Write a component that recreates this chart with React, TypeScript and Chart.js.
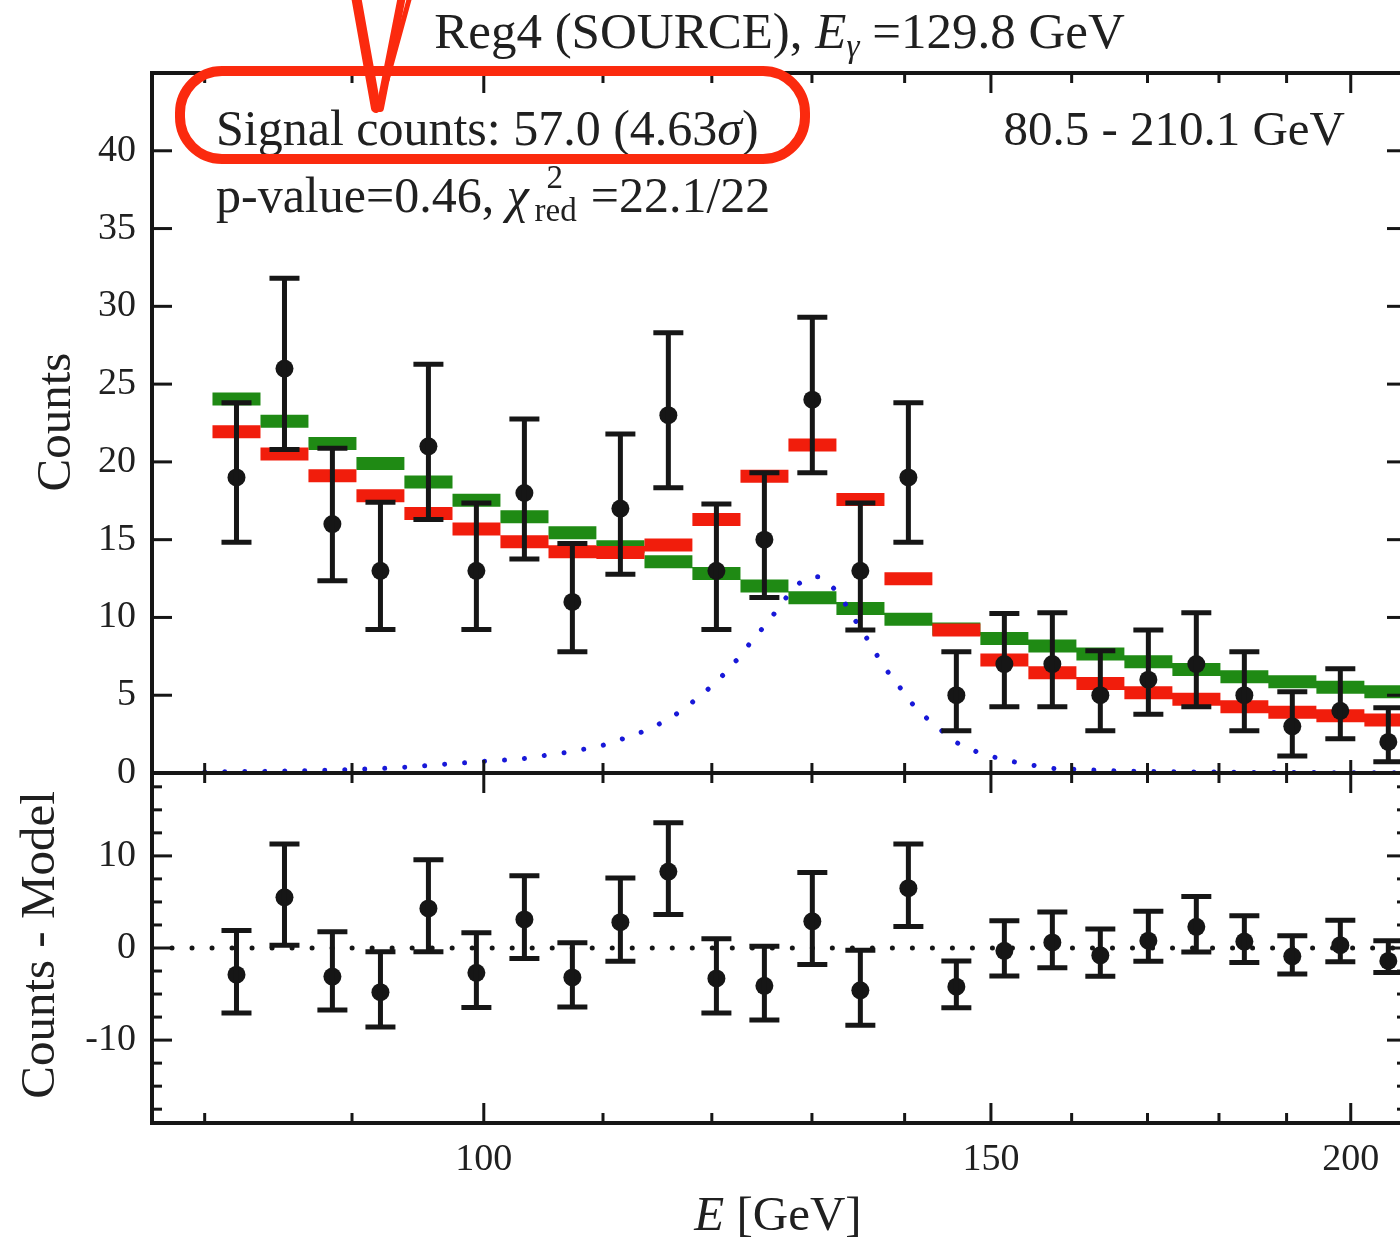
import React, { useEffect, useRef } from 'react';
import { Chart, registerables } from 'chart.js';

Chart.register(...registerables);

// Energy binning (GeV): 25 logarithmic bins between 80.5 and 210.1 GeV
const binEdges = [80.5, 83.65, 86.92, 90.32, 93.85, 97.53, 101.34, 105.31, 109.42, 113.71, 118.15, 122.78, 127.58, 132.57, 137.76, 143.14, 148.74, 154.56, 160.61, 166.89, 173.42, 180.21, 187.25, 194.58, 202.19, 210.1];
const binCenters = [82.06, 85.27, 88.6, 92.07, 95.67, 99.41, 103.3, 107.34, 111.54, 115.9, 120.44, 125.15, 130.04, 135.13, 140.42, 145.91, 151.62, 157.55, 163.71, 170.12, 176.77, 183.69, 190.87, 198.34, 206.1];

// Observed counts with their asymmetric Poisson intervals
const counts = [19, 26, 16, 13, 21, 13, 18, 11, 17, 23, 13, 15, 24, 13, 19, 5, 7, 7, 5, 6, 7, 5, 3, 4, 2];
const countsLow = [14.83, 20.8, 12.36, 9.23, 16.3, 9.23, 13.75, 7.8, 12.77, 18.34, 9.23, 11.29, 19.3, 9.2, 14.83, 2.72, 4.26, 4.26, 2.72, 3.77, 4.26, 2.72, 1.09, 2.2, 0.73];
const countsHigh = [23.8, 31.8, 20.87, 17.4, 26.28, 17.35, 22.75, 14.76, 21.79, 28.3, 17.3, 19.3, 29.3, 17.35, 23.8, 7.8, 10.26, 10.3, 7.86, 9.19, 10.3, 7.8, 5.23, 6.7, 4.2];

// Model expectations per bin
const backgroundFit = [24.04, 22.62, 21.19, 19.9, 18.7, 17.54, 16.47, 15.45, 14.55, 13.58, 12.83, 12.02, 11.27, 10.58, 9.88, 9.25, 8.65, 8.16, 7.65, 7.15, 6.66, 6.19, 5.87, 5.51, 5.23];
const lineFit = [21.93, 20.5, 19.11, 17.82, 16.69, 15.68, 14.87, 14.22, 14.17, 14.65, 16.3, 19.07, 21.08, 17.59, 12.49, 9.19, 7.26, 6.45, 5.76, 5.16, 4.74, 4.26, 3.9, 3.68, 3.41];

// Counts - Model
const residuals = [-2.9, 5.5, -3.1, -4.8, 4.3, -2.7, 3.1, -3.2, 2.8, 8.3, -3.3, -4.1, 2.9, -4.6, 6.5, -4.2, -0.3, 0.6, -0.8, 0.8, 2.3, 0.7, -0.9, 0.3, -1.4];

// Line signal template
const signalEnergy = [80.0, 85.0, 90.0, 94.0, 97.1, 98.6, 100.2, 101.9, 103.6, 105.3, 106.9, 108.7, 110.4, 112.1, 113.9, 115.6, 117.2, 118.7, 120.2, 121.6, 122.9, 124.1, 125.5, 126.7, 128.0, 129.7, 130.6, 131.6, 133.1, 134.2, 135.4, 136.6, 137.8, 139.2, 140.5, 142.1, 143.9, 145.8, 148.0, 150.2, 152.7, 155.1, 157.6, 160.4, 165.0, 172.0, 185.0, 200.0, 208.0];
const signalCounts = [0.06, 0.12, 0.22, 0.38, 0.58, 0.66, 0.77, 0.84, 0.96, 1.16, 1.33, 1.59, 1.86, 2.29, 2.76, 3.36, 4.05, 4.86, 5.72, 6.66, 7.65, 8.66, 9.7, 10.73, 11.76, 12.58, 12.62, 12.26, 11.27, 10.15, 9.08, 7.9, 6.77, 5.72, 4.69, 3.73, 2.87, 2.01, 1.43, 1.05, 0.73, 0.5, 0.3, 0.24, 0.15, 0.09, 0.04, 0.02, 0.01];

// Axis ticks
const xTickValues = [80, 90, 100, 110, 120, 130, 140, 150, 160, 170, 180, 190, 200];
const xLabelValues = [100, 150, 200];
const countTicks = [0, 5, 10, 15, 20, 25, 30, 35, 40];
const residualTicks = [-10, 0, 10];
const residualMinorTicks = [-17.5, -15, -12.5, -7.5, -5, -2.5, 2.5, 5, 7.5, 12.5, 15, 17.5];

const E_MIN = 76.7;
const E_MAX = 209.2;
const COUNT_MAX = 45;
const RES_LIM = 19;

const INK = '#161616';
const TEXT = '#202020';
const GREEN = '#1f8a14';
const RED = '#f11d0c';
const BLUE = '#1818d8';
const MARK = '#fb2a0e';
const SERIF = '"Liberation Serif", "Times New Roman", serif';

const residualLow = residuals.map((r, i) => r - (counts[i] - countsLow[i]));
const residualHigh = residuals.map((r, i) => r + (countsHigh[i] - counts[i]));

function stepPoints(values: number[]) {
  const pts: { x: number; y: number | null }[] = [];
  values.forEach((v, i) => {
    pts.push({ x: binEdges[i], y: v }, { x: binEdges[i + 1], y: v }, { x: binEdges[i + 1], y: null });
  });
  return pts;
}

type Run = { t: string; f: string; dy?: number };

function runsWidth(ctx: CanvasRenderingContext2D, runs: Run[]) {
  let w = 0;
  for (const r of runs) {
    ctx.font = r.f;
    w += ctx.measureText(r.t).width;
  }
  return w;
}

function drawRuns(ctx: CanvasRenderingContext2D, runs: Run[], x: number, y: number, align: 'left' | 'center' | 'right') {
  const w = runsWidth(ctx, runs);
  let cx = align === 'center' ? x - w / 2 : align === 'right' ? x - w : x;
  ctx.textAlign = 'left';
  ctx.textBaseline = 'alphabetic';
  for (const r of runs) {
    ctx.font = r.f;
    ctx.fillText(r.t, cx, y + (r.dy || 0));
    cx += ctx.measureText(r.t).width;
  }
  return cx;
}

const f = (size: number, style = '') => `${style} ${size}px ${SERIF}`.trim();

const errorBarsPlugin = {
  id: 'errorBars',
  afterDatasetsDraw(chart: any) {
    const { ctx, scales } = chart;
    const xs = scales.x;
    const bars = (ys: any, lows: number[], highs: number[]) => {
      binCenters.forEach((e, i) => {
        const px = xs.getPixelForValue(e);
        const y0 = ys.getPixelForValue(lows[i]);
        const y1 = ys.getPixelForValue(highs[i]);
        ctx.beginPath();
        ctx.moveTo(px, y0);
        ctx.lineTo(px, y1);
        ctx.moveTo(px - 15, y0);
        ctx.lineTo(px + 15, y0);
        ctx.moveTo(px - 15, y1);
        ctx.lineTo(px + 15, y1);
        ctx.stroke();
      });
    };
    ctx.save();
    ctx.strokeStyle = INK;
    ctx.lineWidth = 5;
    bars(scales.y, countsLow, countsHigh);
    bars(scales.yRes, residualLow, residualHigh);
    ctx.restore();
  },
};

const framePlugin = {
  id: 'frameTicks',
  afterDatasetsDraw(chart: any) {
    const { ctx, chartArea: ca, scales } = chart;
    const xs = scales.x;
    const yc = scales.y;
    const yr = scales.yRes;
    const mid = yc.getPixelForValue(0);
    const seg = (x0: number, y0: number, x1: number, y1: number) => {
      ctx.beginPath();
      ctx.moveTo(x0, y0);
      ctx.lineTo(x1, y1);
      ctx.stroke();
    };
    ctx.save();
    ctx.strokeStyle = INK;
    ctx.lineWidth = 3;
    xTickValues.forEach((v) => {
      const px = xs.getPixelForValue(v);
      const major = xLabelValues.includes(v);
      const len = major ? 20 : 10;
      seg(px, ca.top, px, ca.top + len);
      seg(px, mid, px, mid - (major ? 13 : 10));
      seg(px, mid, px, mid + len);
      seg(px, ca.bottom, px, ca.bottom - len);
    });
    countTicks.forEach((v) => {
      const py = yc.getPixelForValue(v);
      seg(ca.left, py, ca.left + 20, py);
      seg(ca.right, py, ca.right - 20, py);
    });
    residualTicks.forEach((v) => {
      const py = yr.getPixelForValue(v);
      seg(ca.left, py, ca.left + 20, py);
      seg(ca.right, py, ca.right - 20, py);
    });
    residualMinorTicks.forEach((v) => {
      const py = yr.getPixelForValue(v);
      seg(ca.left, py, ca.left + 10, py);
      seg(ca.right, py, ca.right - 10, py);
    });
    ctx.lineWidth = 4;
    ctx.strokeRect(ca.left, ca.top, ca.right - ca.left, ca.bottom - ca.top);
    seg(ca.left, mid, ca.right, mid);
    ctx.restore();
  },
};

const textPlugin = {
  id: 'panelText',
  afterDraw(chart: any) {
    const { ctx, chartArea: ca } = chart;
    ctx.save();
    ctx.fillStyle = TEXT;

    // title
    drawRuns(
      ctx,
      [
        { t: 'Reg4 (SOURCE), ', f: f(51) },
        { t: 'E', f: f(51, 'italic') },
        { t: 'γ', f: f(33, 'italic'), dy: 9 },
        { t: ' =129.8 GeV', f: f(51) },
      ],
      (ca.left + ca.right) / 2,
      48,
      'center'
    );

    // fit summary
    drawRuns(
      ctx,
      [
        { t: 'Signal counts: 57.0 (4.63', f: f(50) },
        { t: 'σ', f: f(50, 'italic') },
        { t: ')', f: f(50) },
      ],
      ca.left + 64,
      145,
      'left'
    );
    drawRuns(ctx, [{ t: '80.5 - 210.1 GeV', f: f(49) }], ca.right - 62, 145, 'right');

    let x = drawRuns(
      ctx,
      [
        { t: 'p-value=0.46, ', f: f(50) },
        { t: 'χ', f: f(50, 'italic') },
      ],
      ca.left + 64,
      212,
      'left'
    );
    ctx.font = f(33);
    const wRed = ctx.measureText('red').width;
    ctx.fillText('2', x + 18, 188);
    ctx.fillText('red', x + 6, 221);
    x += wRed + 20;
    drawRuns(ctx, [{ t: '=22.1/22', f: f(50) }], x, 212, 'left');

    // axis titles
    ctx.font = f(49);
    ctx.textAlign = 'center';
    ctx.textBaseline = 'alphabetic';
    ctx.save();
    ctx.translate(70, 422);
    ctx.rotate(-Math.PI / 2);
    ctx.fillText('Counts', 0, 0);
    ctx.restore();
    ctx.save();
    ctx.translate(54, 945);
    ctx.rotate(-Math.PI / 2);
    ctx.fillText('Counts - Model', 0, 0);
    ctx.restore();
    drawRuns(
      ctx,
      [
        { t: 'E', f: f(49, 'italic') },
        { t: ' [GeV]', f: f(49) },
      ],
      778,
      1230,
      'center'
    );

    // hand-drawn highlight around the signal summary
    ctx.strokeStyle = MARK;
    ctx.lineWidth = 10;
    ctx.beginPath();
    ctx.roundRect(180, 71, 625, 88, 42);
    ctx.stroke();
    ctx.lineCap = 'round';
    ctx.lineWidth = 10;
    ctx.beginPath();
    ctx.moveTo(356, -4);
    ctx.lineTo(376, 108);
    ctx.stroke();
    ctx.lineWidth = 8;
    ctx.beginPath();
    ctx.moveTo(402, -4);
    ctx.lineTo(380, 108);
    ctx.stroke();
    ctx.lineWidth = 5;
    ctx.beginPath();
    ctx.moveTo(410, -4);
    ctx.lineTo(387, 80);
    ctx.stroke();
    ctx.restore();
  },
};

export default function App() {
  const canvasRef = useRef<HTMLCanvasElement>(null);

  useEffect(() => {
    const canvas = canvasRef.current;
    if (!canvas) return;
    const tickFont = { family: SERIF, size: 38 };
    const chart = new Chart(canvas, {
      type: 'line',
      data: {
        datasets: [
          {
            label: 'Counts',
            data: binCenters.map((e, i) => ({ x: e, y: counts[i] })),
            yAxisID: 'y',
            showLine: false,
            pointRadius: 9,
            pointBackgroundColor: INK,
            pointBorderWidth: 0,
            order: 0,
          },
          {
            label: 'Counts - Model',
            data: binCenters.map((e, i) => ({ x: e, y: residuals[i] })),
            yAxisID: 'yRes',
            showLine: false,
            pointRadius: 9,
            pointBackgroundColor: INK,
            pointBorderWidth: 0,
            order: 0,
          },
          {
            label: 'Line signal',
            data: signalEnergy.map((e, i) => ({ x: e, y: signalCounts[i] })),
            yAxisID: 'y',
            borderColor: BLUE,
            borderWidth: 5,
            borderDash: [0.01, 20],
            borderCapStyle: 'round',
            cubicInterpolationMode: 'monotone',
            pointRadius: 0,
            order: 1,
          },
          {
            label: 'Zero',
            data: [
              { x: E_MIN, y: 0 },
              { x: E_MAX, y: 0 },
            ],
            yAxisID: 'yRes',
            borderColor: INK,
            borderWidth: 5,
            borderDash: [0.01, 20],
            borderCapStyle: 'round',
            pointRadius: 0,
            order: 1,
          },
          {
            label: 'Background + line',
            data: stepPoints(lineFit),
            yAxisID: 'y',
            borderColor: RED,
            borderWidth: 13,
            borderCapStyle: 'butt',
            spanGaps: false,
            pointRadius: 0,
            order: 2,
          },
          {
            label: 'Background only',
            data: stepPoints(backgroundFit),
            yAxisID: 'y',
            borderColor: GREEN,
            borderWidth: 13,
            borderCapStyle: 'butt',
            spanGaps: false,
            pointRadius: 0,
            order: 3,
          },
        ],
      } as any,
      options: {
        responsive: false,
        animation: false,
        events: [],
        layout: { padding: { top: 73, right: 13, left: 0, bottom: 0 } },
        plugins: { legend: { display: false }, tooltip: { enabled: false } },
        scales: {
          x: {
            type: 'logarithmic',
            min: E_MIN,
            max: E_MAX,
            afterBuildTicks: (s: any) => {
              s.ticks = xTickValues.map((v) => ({ value: v, major: xLabelValues.includes(v) }));
            },
            afterFit: (s: any) => {
              s.height = 120;
            },
            grid: { display: false, drawTicks: false },
            border: { display: false },
            ticks: {
              autoSkip: false,
              maxRotation: 0,
              padding: 14,
              color: TEXT,
              font: tickFont,
              callback: (v: any) => (xLabelValues.includes(Number(v)) ? String(v) : ''),
            },
          },
          y: {
            type: 'linear',
            position: 'left',
            stack: 'panels',
            stackWeight: 2,
            weight: 2,
            min: 0,
            max: COUNT_MAX,
            afterBuildTicks: (s: any) => {
              s.ticks = countTicks.map((v) => ({ value: v }));
            },
            afterFit: (s: any) => {
              s.width = 152;
            },
            grid: { display: false, drawTicks: false },
            border: { display: false },
            ticks: { padding: 16, color: TEXT, font: tickFont, callback: (v: any) => String(v) },
          },
          yRes: {
            type: 'linear',
            position: 'left',
            stack: 'panels',
            stackWeight: 1,
            weight: 1,
            min: -RES_LIM,
            max: RES_LIM,
            afterBuildTicks: (s: any) => {
              s.ticks = residualTicks.map((v) => ({ value: v }));
            },
            afterFit: (s: any) => {
              s.width = 152;
            },
            grid: { display: false, drawTicks: false },
            border: { display: false },
            ticks: { padding: 16, color: TEXT, font: tickFont, callback: (v: any) => String(v) },
          },
        },
      } as any,
      plugins: [errorBarsPlugin, framePlugin, textPlugin],
    });
    return () => chart.destroy();
  }, []);

  return (
    <div style={{ position: 'absolute', left: 0, top: 0, width: 1400, height: 1243, overflow: 'hidden', background: '#fff' }}>
      <canvas ref={canvasRef} width={1420} height={1243} style={{ display: 'block', width: 1420, height: 1243 }} />
    </div>
  );
}
